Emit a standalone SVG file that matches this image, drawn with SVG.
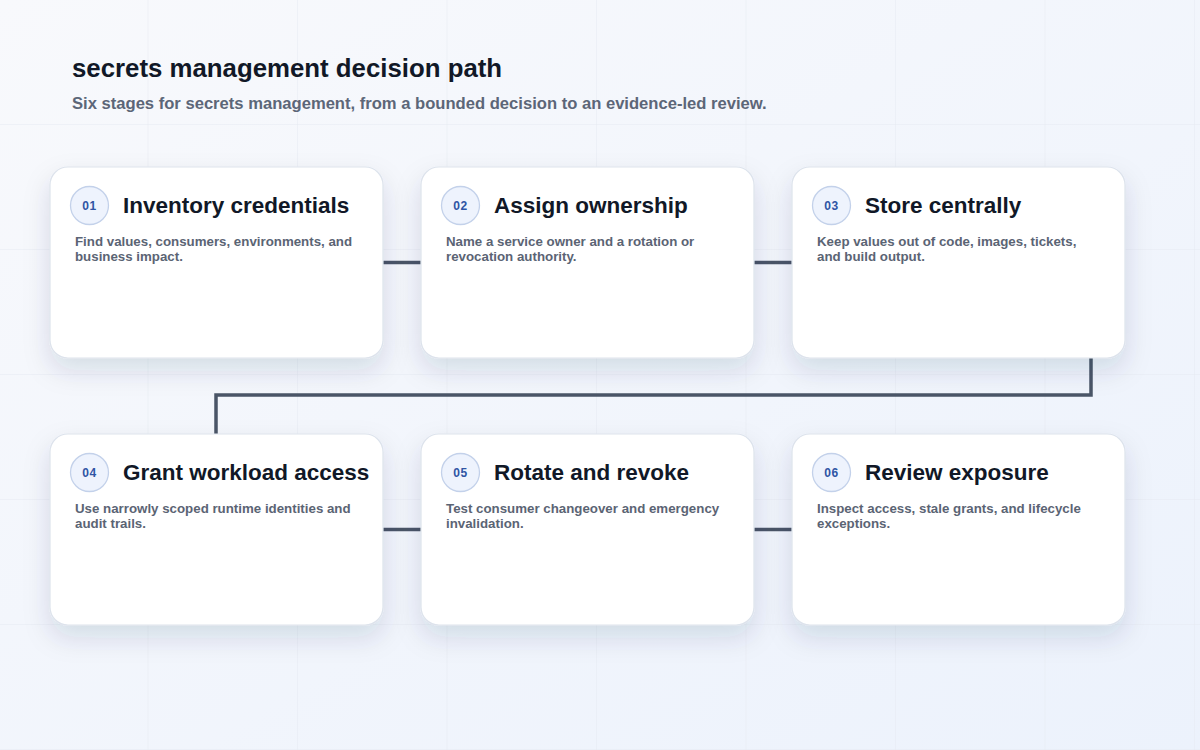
<svg xmlns="http://www.w3.org/2000/svg" width="1200" height="750" viewBox="0 0 1200 750">
<defs>
<linearGradient id="bg" x1="0" y1="0" x2="1" y2="1">
<stop offset="0" stop-color="#f8f9fc"/>
<stop offset="1" stop-color="#ecf2fc"/>
</linearGradient>
<pattern id="grid" x="-1" y="0" width="149.5" height="125" patternUnits="userSpaceOnUse">
<path d="M149.5 0V125M0 125H149.5" fill="none" stroke="#e6eaf1" stroke-width="1"/>
</pattern>
<filter id="sh" x="-20%" y="-20%" width="140%" height="160%">
<feDropShadow dx="0" dy="12" stdDeviation="13" flood-color="#1e2a50" flood-opacity="0.13"/>
</filter>
</defs>
<style>
.card{fill:#ffffff;stroke:#dde3ec;stroke-width:1.2}
.badge{fill:#eef3fd;stroke:#c3d1ea;stroke-width:1.3}
.num{font-family:"Liberation Sans",Arial,sans-serif;font-weight:700;font-size:12px;fill:#2f55a4;text-anchor:middle;letter-spacing:0.6px}
.ttl{font-family:"Liberation Sans",Arial,sans-serif;font-weight:700;font-size:22.5px;fill:#111827}
.desc{font-family:"Liberation Sans",Arial,sans-serif;font-weight:700;font-size:13.3px;fill:#5b6474}
.conn{fill:none;stroke:#4a5567;stroke-width:3.5}
</style>
<rect width="1200" height="750" fill="url(#bg)"/>
<rect width="1200" height="750" fill="url(#grid)"/>
<text x="72" y="77" font-family="Liberation Sans, Arial, sans-serif" font-weight="700" font-size="25.8" fill="#111827">secrets management decision path</text>
<text x="72" y="109" font-family="Liberation Sans, Arial, sans-serif" font-weight="700" font-size="16.6" fill="#5c6678">Six stages for secrets management, from a bounded decision to an evidence-led review.</text>
<g id="connectors">
<path class="conn" d="M383 262.5H421"/>
<path class="conn" d="M754 262.5H792"/>
<path class="conn" d="M1091 358V395H216V434"/>
<path class="conn" d="M383 529.5H421"/>
<path class="conn" d="M754 529.5H792"/>
</g>
<g id="node1">
<rect class="card" x="50" y="167" width="333" height="191" rx="18" filter="url(#sh)"/>
<circle class="badge" cx="89.5" cy="205.5" r="19"/>
<text class="num" x="89.5" y="210">01</text>
<text class="ttl" x="123" y="213">Inventory credentials</text>
<text class="desc" x="75" y="246">Find values, consumers, environments, and</text>
<text class="desc" x="75" y="261">business impact.</text>
</g>
<g id="node2">
<rect class="card" x="421" y="167" width="333" height="191" rx="18" filter="url(#sh)"/>
<circle class="badge" cx="460.5" cy="205.5" r="19"/>
<text class="num" x="460.5" y="210">02</text>
<text class="ttl" x="494" y="213">Assign ownership</text>
<text class="desc" x="446" y="246">Name a service owner and a rotation or</text>
<text class="desc" x="446" y="261">revocation authority.</text>
</g>
<g id="node3">
<rect class="card" x="792" y="167" width="333" height="191" rx="18" filter="url(#sh)"/>
<circle class="badge" cx="831.5" cy="205.5" r="19"/>
<text class="num" x="831.5" y="210">03</text>
<text class="ttl" x="865" y="213">Store centrally</text>
<text class="desc" x="817" y="246">Keep values out of code, images, tickets,</text>
<text class="desc" x="817" y="261">and build output.</text>
</g>
<g id="node4">
<rect class="card" x="50" y="434" width="333" height="191" rx="18" filter="url(#sh)"/>
<circle class="badge" cx="89.5" cy="472.5" r="19"/>
<text class="num" x="89.5" y="477">04</text>
<text class="ttl" x="123" y="480">Grant workload access</text>
<text class="desc" x="75" y="513">Use narrowly scoped runtime identities and</text>
<text class="desc" x="75" y="528">audit trails.</text>
</g>
<g id="node5">
<rect class="card" x="421" y="434" width="333" height="191" rx="18" filter="url(#sh)"/>
<circle class="badge" cx="460.5" cy="472.5" r="19"/>
<text class="num" x="460.5" y="477">05</text>
<text class="ttl" x="494" y="480">Rotate and revoke</text>
<text class="desc" x="446" y="513">Test consumer changeover and emergency</text>
<text class="desc" x="446" y="528">invalidation.</text>
</g>
<g id="node6">
<rect class="card" x="792" y="434" width="333" height="191" rx="18" filter="url(#sh)"/>
<circle class="badge" cx="831.5" cy="472.5" r="19"/>
<text class="num" x="831.5" y="477">06</text>
<text class="ttl" x="865" y="480">Review exposure</text>
<text class="desc" x="817" y="513">Inspect access, stale grants, and lifecycle</text>
<text class="desc" x="817" y="528">exceptions.</text>
</g>
</svg>
